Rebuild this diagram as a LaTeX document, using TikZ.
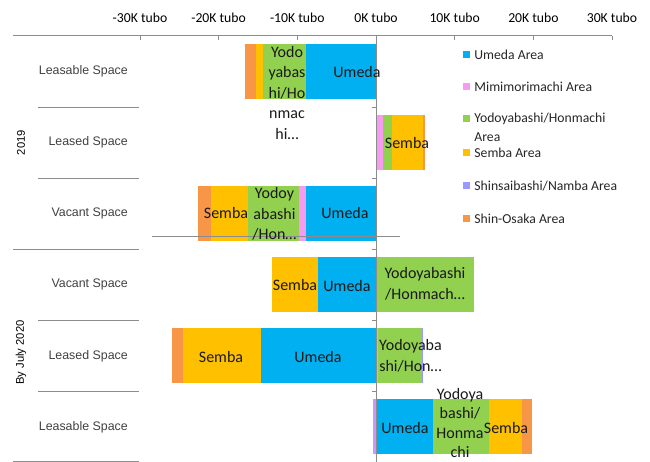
\documentclass[tikz,border=0pt]{standalone}
\usepackage{fontspec}
\setmainfont{Carlito}
\newfontfamily\catfont{Liberation Sans}
\usetikzlibrary{positioning}

\definecolor{umeda}{HTML}{00B0F0}
\definecolor{mimi}{HTML}{F59CF0}
\definecolor{yodo}{HTML}{92D050}
\definecolor{semba}{HTML}{FFC000}
\definecolor{shinsai}{HTML}{9999FF}
\definecolor{shinosaka}{HTML}{F79646}
\definecolor{axisgray}{HTML}{8C8C8C}
\definecolor{catgray}{HTML}{404040}

\tikzset{
  barlabel/.style={inner sep=0pt, align=center, font=\fontsize{16}{20.5}\selectfont, text=black!90},
  ticklabel/.style={inner sep=0pt, font=\fontsize{13.7}{16}\selectfont},
  catlabel/.style={inner sep=0pt, anchor=east, font=\catfont\fontsize{12.4}{14}\selectfont, text=catgray},
  yearlabel/.style={inner sep=0pt, rotate=90, font=\catfont\fontsize{11.2}{13}\selectfont},
  legkey/.style={inner sep=0pt, minimum size=7pt, fill=#1},
  legtext/.style={inner sep=0pt, anchor=west, font=\fontsize{13.7}{16}\selectfont, text=black!85},
  axisline/.style={draw=axisgray, line width=1pt},
}

\begin{document}
\begin{tikzpicture}[x=1pt, y=-1pt]
        \useasboundingbox (0,0) rectangle (650,462);

        % bars, one row after the other
        \foreach \a/\b/\c in {245/256/shinosaka, 256/263/semba, 263/306/yodo, 306/376/umeda}
            \fill[\c] (\a,44) rectangle (\b,99);
        \foreach \a/\b/\c in {376/377/umeda, 377/383/mimi, 383/392/yodo, 392/423/semba, 423/424.5/shinosaka}
            \fill[\c] (\a,115) rectangle (\b,170);
        \foreach \a/\b/\c in {198/211/shinosaka, 211/248/semba, 248/299/yodo, 299/306/mimi, 306/376/umeda}
            \fill[\c] (\a,186) rectangle (\b,241);
        \foreach \a/\b/\c in {272/318/semba, 318/376/umeda, 376/474/yodo}
            \fill[\c] (\a,257) rectangle (\b,312);
        \foreach \a/\b/\c in {172/183/shinosaka, 183/261/semba, 261/376/umeda, 376/377.5/mimi, 377.5/422/yodo, 422/423/shinsai}
            \fill[\c] (\a,328) rectangle (\b,383);
        \foreach \a/\b/\c in {373/376/shinsai!50!mimi, 376/433/umeda, 433/489/yodo, 489/522/semba, 522/532/shinosaka}
            \fill[\c] (\a,399) rectangle (\b,454);

        % axes
        \draw[axisline] (13,36) -- (612,36);
        \draw[axisline] (376,36) -- (376,462);
        \foreach \v/\x in {-30/140, -20/218.6, -10/297.3, 0/376, 10/454.7, 20/533.4, 30/612} {
            \draw[axisline] (\x,36) -- (\x,40);
            \node[ticklabel] (tick\v) at (\x,18) {\v K tubo};
        }
        \foreach \y in {107.1, 178.2, 249.3, 320.4, 391.5}
            \draw[axisline] (372,\y) -- (376,\y);
        \foreach \y in {107.1, 178.2, 320.4, 391.5}
            \draw[axisline] (38,\y) -- (139,\y);
        \draw[axisline] (13,249.3) -- (139,249.3);
        \draw[axisline] (13,461) -- (139,461);
        \draw[axisline] (152,237) -- (400,237);

        % categories
        \node[catlabel] (leasable19) at (128,71.5) {Leasable Space};
        \node[catlabel] (leased19) at (128,142.6) {Leased Space};
        \node[catlabel] (vacant19) at (128,213.7) {Vacant Space};
        \node[catlabel] (vacant20) at (128,284.8) {Vacant Space};
        \node[catlabel] (leased20) at (128,355.9) {Leased Space};
        \node[catlabel] (leasable20) at (128,427) {Leasable Space};
        \node[yearlabel] (year2019) at (21,142.6) {2019};
        \node[yearlabel] (year2020) at (21,352.5) {By July 2020};

        % labels inside the bars
        \node[barlabel] (umeda1) at (357,72) {Umeda};
        \node[barlabel] (yodo1) at (287,93) {Yodo\\yabas\\hi/Ho\\nmac\\hi…};
        \node[barlabel] (semba2) at (407,143) {Semba};
        \node[barlabel] (semba3) at (226,213.5) {Semba};
        \node[barlabel] (yodo3) at (274.5,214) {Yodoy\\abashi\\/Hon…};
        \node[barlabel] (umeda3) at (345,213) {Umeda};
        \node[barlabel] (semba4) at (295,285) {Semba};
        \node[barlabel] (umeda4) at (347,286) {Umeda};
        \node[barlabel] (yodo4) at (425,284) {Yodoyabashi\\/Honmach…};
        \node[barlabel] (semba5) at (221,357) {Semba};
        \node[barlabel] (umeda5) at (318,357) {Umeda};
        \node[barlabel] (yodo5) at (410.5,356) {Yodoyaba\\shi/Hon…};
        \node[barlabel] (umeda6) at (405,428) {Umeda};
        \node[barlabel, font=\fontsize{16}{19.5}\selectfont] (yodo6) at (460,423) {Yodoya\\bashi/\\Honma\\chi};
        \node[barlabel] (semba6) at (506,428) {Semba};

        % legend
        \node[legkey=umeda] (umedaKey) at (466.5,55) {};
        \node[legtext, right=4pt of umedaKey] (umedaText) {Umeda Area};
        \node[legkey=mimi] (mimiKey) at (466.5,87) {};
        \node[legtext, right=4pt of mimiKey] (mimiText) {Mimimorimachi Area};
        \node[legkey=yodo] (yodoKey) at (466.5,119) {};
        \node[legtext, right=4pt of yodoKey] (yodoText) {Yodoyabashi/Honmachi};
        \node[legtext] (yodoTextB) at ([yshift=-18pt]yodoText.west) {Area};
        \node[legkey=semba] (sembaKey) at (466.5,153) {};
        \node[legtext, right=4pt of sembaKey] (sembaText) {Semba Area};
        \node[legkey=shinsai] (shinsaiKey) at (466.5,186) {};
        \node[legtext, right=4pt of shinsaiKey] (shinsaiText) {Shinsaibashi/Namba Area};
        \node[legkey=shinosaka] (shinosakaKey) at (466.5,219) {};
        \node[legtext, right=4pt of shinosakaKey] (shinosakaText) {Shin-Osaka Area};
\end{tikzpicture}
\end{document}
